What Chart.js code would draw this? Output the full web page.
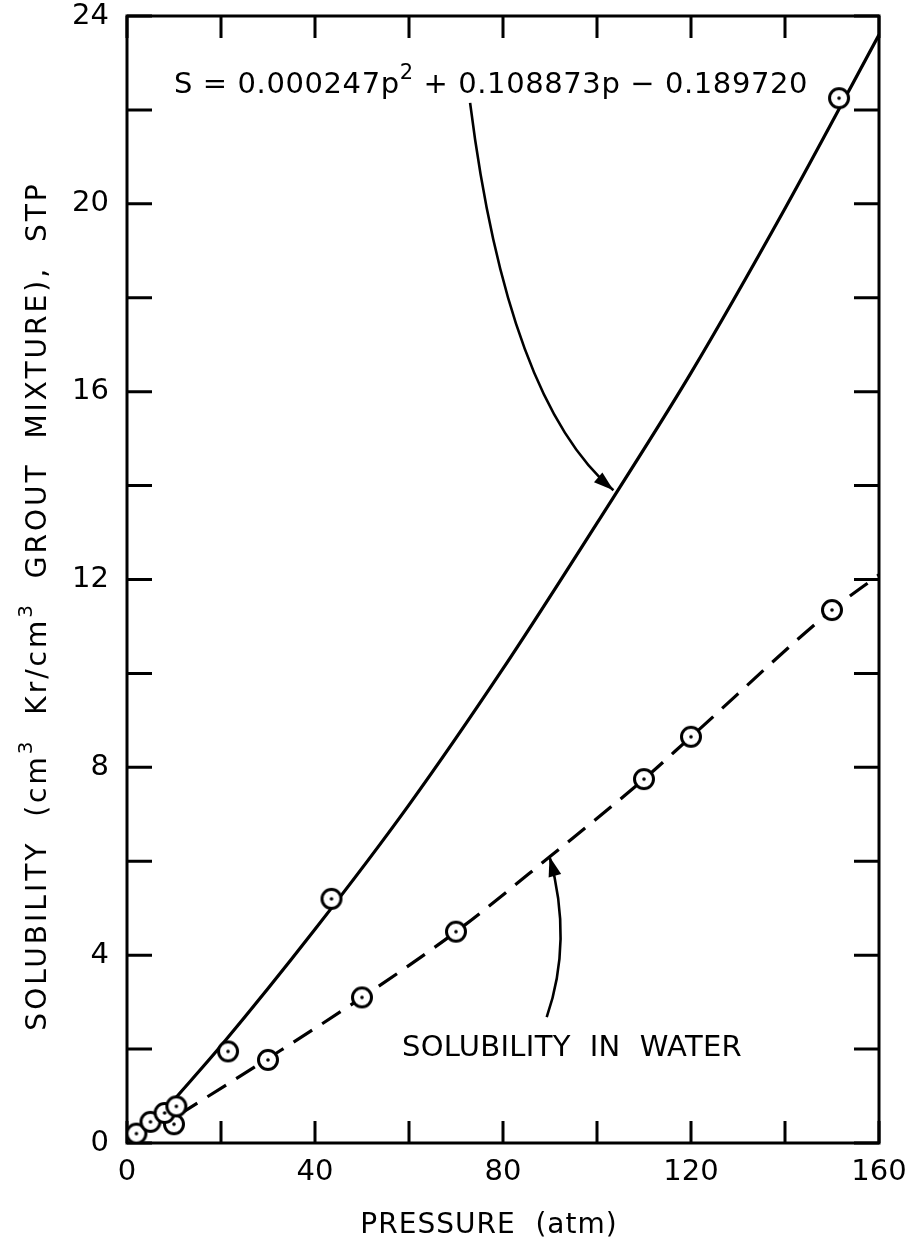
<!DOCTYPE html>
<html>
<head>
<meta charset="utf-8">
<script src="https://cdn.jsdelivr.net/npm/chart.js@4.4.0/dist/chart.umd.min.js"></script>
<style>
  html, body { margin: 0; padding: 0; background: #fff; }
  #wrap { width: 906px; height: 1240px; }
</style>
</head>
<body>
<div id="wrap"><canvas id="solChart"></canvas></div>
<script>
// measured points, grout mixture and water
const groutPressure = [2, 5, 8, 10.5, 21.5, 43.5, 151.5];
const groutSolubility = [0.2, 0.45, 0.64, 0.78, 1.95, 5.2, 22.25];
const waterPressure = [10, 30, 50, 70, 110, 120, 150];
const waterSolubility = [0.4, 1.77, 3.1, 4.5, 7.75, 8.65, 11.35];

// curves
const fitPressure = [10, 20, 40, 60, 80, 100, 120, 140, 160];
const fitSolubility = [0.92, 2.07, 4.55, 7.2, 10.1, 13.2, 16.4, 19.9, 23.6];
const waterCurvePressure = [11, 30, 50, 70, 90, 110, 120, 150, 160];
const waterCurveSolubility = [0.6, 1.8, 3.1, 4.5, 6.1, 7.75, 8.65, 11.35, 12.1];

// axis setup
const xMin = 0, xMax = 160, xStep = 20, xLabelEvery = 40;
const yMin = 0, yMax = 24, yStep = 2, yLabelEvery = 4;

const FONT = "'DejaVu Sans', sans-serif";

function toPoints(xs, ys) {
  return xs.map((v, i) => ({ x: v, y: ys[i] }));
}

function ringMarker() {
  const c = document.createElement('canvas');
  c.width = 26; c.height = 26;
  const g = c.getContext('2d');
  g.beginPath();
  g.arc(13, 13, 9.5, 0, Math.PI * 2);
  g.fillStyle = '#fff';
  g.fill();
  g.lineWidth = 3;
  g.strokeStyle = '#000';
  g.stroke();
  g.beginPath();
  g.arc(13, 13, 1.8, 0, Math.PI * 2);
  g.fillStyle = '#000';
  g.fill();
  return c;
}

// draw text with superscript pieces: [[text, isSup], ...]
function richWidth(ctx, parts, size) {
  let w = 0;
  parts.forEach(p => {
    ctx.font = (p[1] ? Math.round(size * 0.72) : size) + 'px ' + FONT;
    w += ctx.measureText(p[0]).width;
  });
  return w;
}
function drawRich(ctx, parts, x, y, size) {
  parts.forEach(p => {
    ctx.font = (p[1] ? Math.round(size * 0.72) : size) + 'px ' + FONT;
    ctx.fillText(p[0], x, p[1] ? y - size * 0.5 : y);
    x += ctx.measureText(p[0]).width;
  });
}

function curvedArrow(ctx, a, c, b) {
  ctx.beginPath();
  ctx.moveTo(a[0], a[1]);
  ctx.quadraticCurveTo(c[0], c[1], b[0], b[1]);
  ctx.stroke();
  const ang = Math.atan2(b[1] - c[1], b[0] - c[0]);
  const len = 20, half = 6.5;
  ctx.beginPath();
  ctx.moveTo(b[0], b[1]);
  ctx.lineTo(b[0] - len * Math.cos(ang) + half * Math.sin(ang), b[1] - len * Math.sin(ang) - half * Math.cos(ang));
  ctx.lineTo(b[0] - len * Math.cos(ang) - half * Math.sin(ang), b[1] - len * Math.sin(ang) + half * Math.cos(ang));
  ctx.closePath();
  ctx.fill();
}

const framePlugin = {
  id: 'frame',
  beforeDatasetsDraw(chart) {
    const { ctx, chartArea: a, scales: { x, y } } = chart;
    ctx.save();
    ctx.strokeStyle = '#000';
    ctx.lineWidth = 3;
    ctx.strokeRect(a.left, a.top, a.right - a.left, a.bottom - a.top);
    ctx.beginPath();
    x.ticks.forEach(t => {
      const px = x.getPixelForValue(t.value);
      ctx.moveTo(px, a.bottom); ctx.lineTo(px, a.bottom - 22);
      ctx.moveTo(px, a.top); ctx.lineTo(px, a.top + 22);
    });
    y.ticks.forEach(t => {
      const py = y.getPixelForValue(t.value);
      ctx.moveTo(a.left, py); ctx.lineTo(a.left + 25, py);
      ctx.moveTo(a.right, py); ctx.lineTo(a.right - 25, py);
    });
    ctx.stroke();
    ctx.restore();
  }
};

const notesPlugin = {
  id: 'notes',
  afterDatasetsDraw(chart) {
    const { ctx, chartArea: a, scales: { x, y } } = chart;
    const P = (p, s) => [x.getPixelForValue(p), y.getPixelForValue(s)];
    ctx.save();
    ctx.fillStyle = '#000';
    ctx.strokeStyle = '#000';
    ctx.textBaseline = 'alphabetic';
    ctx.textAlign = 'left';

    // equation
    const eq = P(10, 22.35);
    ctx.letterSpacing = '0.6px';
    drawRich(ctx, [['S = 0.000247p', false], ['2', true], [' + 0.108873p \u2212 0.189720', false]], eq[0], eq[1], 29);

    // water label
    const wl = P(58.5, 1.85);
    ctx.letterSpacing = '0.3px';
    ctx.font = '29px ' + FONT;
    ctx.fillText('SOLUBILITY  IN  WATER', wl[0], wl[1]);

    ctx.lineWidth = 2.6;
    curvedArrow(ctx, P(73, 22.15), P(81, 15.8), P(103.5, 13.9));
    curvedArrow(ctx, P(89.3, 2.68), P(94.9, 4.3), P(89.9, 6.1));

    // axis titles
    ctx.letterSpacing = '1px';
    ctx.font = '28px ' + FONT;
    ctx.textAlign = 'center';
    ctx.fillText('PRESSURE  (atm)', (a.left + a.right) / 2 - 14, 1233);

    ctx.textAlign = 'left';
    const yParts = [['SOLUBILITY  (cm', false], ['3', true], ['  Kr/cm', false], ['3', true], ['  GROUT  MIXTURE),  STP', false]];
    ctx.letterSpacing = '3px';
    const w = richWidth(ctx, yParts, 28);
    ctx.translate(46, 606);
    ctx.rotate(-Math.PI / 2);
    drawRich(ctx, yParts, -w / 2, 0, 28);
    ctx.restore();
  }
};

const marker = ringMarker();

new Chart(document.getElementById('solChart'), {
  type: 'scatter',
  data: {
    datasets: [
      {
        label: 'Grout mixture',
        data: toPoints(groutPressure, groutSolubility),
        pointStyle: marker,
        order: 0
      },
      {
        label: 'Water',
        data: toPoints(waterPressure, waterSolubility),
        pointStyle: marker,
        order: 0
      },
      {
        label: 'Fit',
        type: 'line',
        data: toPoints(fitPressure, fitSolubility),
        borderColor: '#000',
        borderWidth: 3.2,
        pointRadius: 0,
        cubicInterpolationMode: 'monotone',
        fill: false,
        order: 1
      },
      {
        label: 'Solubility in water',
        type: 'line',
        data: toPoints(waterCurvePressure, waterCurveSolubility),
        borderColor: '#000',
        borderWidth: 3.2,
        borderDash: [22, 12],
        pointRadius: 0,
        cubicInterpolationMode: 'monotone',
        fill: false,
        order: 1
      }
    ]
  },
  options: {
    responsive: true,
    maintainAspectRatio: false,
    animation: false,
    layout: { padding: { top: 16, right: 27, left: 0, bottom: 0 } },
    plugins: {
      legend: { display: false },
      tooltip: { enabled: false }
    },
    scales: {
      x: {
        type: 'linear',
        min: xMin,
        max: xMax,
        grid: { display: false, drawTicks: false },
        border: { display: false },
        afterFit: s => { s.height = 97; s.paddingLeft = 0; s.paddingRight = 0; },
        ticks: {
          stepSize: xStep,
          padding: 12,
          color: '#000',
          font: { family: 'DejaVu Sans', size: 29 },
          maxRotation: 0,
          autoSkip: false,
          callback: v => (v % xLabelEvery === 0 ? v : '')
        }
      },
      y: {
        type: 'linear',
        min: yMin,
        max: yMax,
        grid: { display: false, drawTicks: false },
        border: { display: false },
        afterFit: s => { s.width = 127; s.paddingTop = 0; s.paddingBottom = 0; },
        ticks: {
          stepSize: yStep,
          padding: 18,
          color: '#000',
          font: { family: 'DejaVu Sans', size: 29 },
          autoSkip: false,
          callback: v => (v % yLabelEvery === 0 ? v : '')
        }
      }
    }
  },
  plugins: [framePlugin, notesPlugin]
});
</script>
</body>
</html>
